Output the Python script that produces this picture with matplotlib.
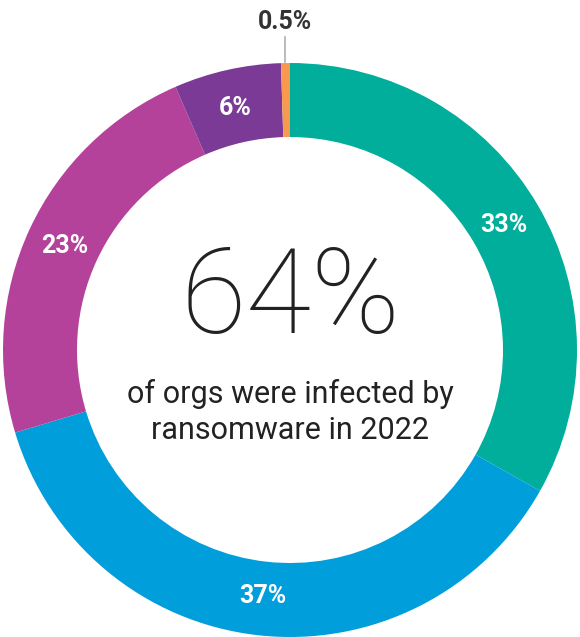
import matplotlib
matplotlib.use("Agg")
import matplotlib.pyplot as plt
import numpy as np

# ── DATA ──────────────────────────────────────────────────────────────────────
shares = [33, 37, 23, 6, 0.5]
labels = ["33%", "37%", "23%", "6%", "0.5%"]
colors = ["#00ae9b", "#009edb", "#b5429a", "#7a3a96", "#f79a50"]
headline = "64%"
subline = "of orgs were infected by\nransomware in 2022"

FONT = ["Roboto", "DejaVu Sans"]

fig = plt.figure(figsize=(5.8, 6.37), dpi=100)
ax = fig.add_axes([0, 0, 1, 1])

cx, cy, r_out, width = 290, 287, 287, 74
wedges, _ = ax.pie(shares, colors=colors, startangle=90, counterclock=False,
                   center=(cx, cy), radius=r_out, frame=True,
                   wedgeprops=dict(width=width, edgecolor="none"))
ax.set_xlim(0, 580)
ax.set_ylim(0, 637)
ax.set_aspect("equal")
ax.axis("off")

# slice labels inside the ring, at the middle of each wedge
r_lab = r_out - width / 2 - 2
for w, lab in zip(wedges[:-1], labels[:-1]):
    ang = np.deg2rad((w.theta1 + w.theta2) / 2)
    ax.text(cx + r_lab * np.cos(ang), cy + r_lab * np.sin(ang), lab,
            ha="center", va="center", color="white", fontsize=18,
            fontweight="bold", family=FONT)

# tiny slice gets a leader line and an outside label
w = wedges[-1]
ang = np.deg2rad((w.theta1 + w.theta2) / 2)
x0 = cx + r_out * np.cos(ang)
ax.plot([x0, x0], [cy + r_out + 1, cy + r_out + 26], color="#b0b0b0", lw=1.2)
ax.text(x0, cy + r_out + 29, labels[-1], ha="center", va="bottom",
        color="#333333", fontsize=18, fontweight="bold", family=FONT)

ax.text(cx, cy + 50, headline, ha="center", va="center", fontsize=86,
        fontweight="light", color="#222222", family=FONT)
ax.text(cx, cy - 62, subline, ha="center", va="center", fontsize=22,
        color="#222222", family=FONT, linespacing=1.32)

fig.savefig("out.png", dpi=100)
